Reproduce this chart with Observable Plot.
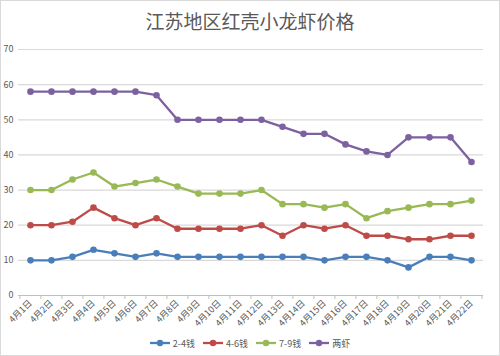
<!DOCTYPE html>
<html><head><meta charset="utf-8">
<script src="https://cdn.jsdelivr.net/npm/d3@7"></script>
<script src="https://cdn.jsdelivr.net/npm/@observablehq/plot@0.6"></script>
<style>
body{margin:0;background:#fff;}
#wrap{width:498px;height:354px;border:1px solid #d9d9d9;position:relative;overflow:hidden;font-family:"Noto Sans CJK SC","Noto Sans",sans-serif;}
#title{height:37px;line-height:40px;text-align:center;font-size:19px;color:#595959;font-family:"Noto Sans CJK SC",serif;}
#legend{display:flex;justify-content:center;align-items:center;height:26px;font-size:9px;color:#595959;gap:8px;}
.li{display:flex;align-items:center;gap:3px;}
</style></head>
<body><div id="wrap"><div id="title">江苏地区红壳小龙虾价格</div><div id="chart"></div><div id="legend"></div></div>
<script>
const dates = ["4月1日","4月2日","4月3日","4月4日","4月5日","4月6日","4月7日","4月8日","4月9日","4月10日","4月11日","4月12日","4月13日","4月14日","4月15日","4月16日","4月17日","4月18日","4月19日","4月20日","4月21日","4月22日"];
const s24 = [10,10,11,13,12,11,12,11,11,11,11,11,11,11,10,11,11,10,8,11,11,10];
const s46 = [20,20,21,25,22,20,22,19,19,19,19,20,17,20,19,20,17,17,16,16,17,17];
const s79 = [30,30,33,35,31,32,33,31,29,29,29,30,26,26,25,26,22,24,25,26,26,27];
const sLx = [58,58,58,58,58,58,57,50,50,50,50,50,48,46,46,43,41,40,45,45,45,38];
const seriesNames = ["2-4钱","4-6钱","7-9钱","两虾"];
const colors = ["#4a7ebb","#be4b48","#98b954","#7d60a0"];
const yTicks = [0,10,20,30,40,50,60,70];

const allSeries = [s24,s46,s79,sLx];
const data = [];
allSeries.forEach((arr,si)=>arr.forEach((v,i)=>data.push({date:dates[i],value:v,series:seriesNames[si]})));

const W=498, mL=17, mR=16;
const step=(W-mL-mR)/dates.length;

const chart = Plot.plot({
  width: W, height: 292,
  marginTop: 11, marginBottom: 35, marginLeft: mL, marginRight: mR,
  style:{fontFamily:'"Noto Sans CJK SC","Noto Sans",sans-serif', fontSize:"9px", color:"#595959"},
  x:{type:"point", domain:dates, padding:0.5},
  y:{domain:[0,70]},
  color:{domain:seriesNames, range:colors},
  marks:[
    Plot.ruleY(yTicks.filter(d=>d>0), {stroke:"#d9d9d9", strokeWidth:1.2}),
    Plot.ruleY([0], {stroke:"#bfbfbf", strokeWidth:1.2}),
    Plot.axisY({ticks:yTicks, tickSize:0, tickPadding:5, fill:"#595959", label:null}),
    Plot.axisX({tickSize:0, tickRotate:-45, tickPadding:6, fill:"#595959", label:null}),
    Plot.axisX({tickSize:4, tickFormat:()=>"", dx:-step/2, stroke:"#bfbfbf", label:null}),
    Plot.axisX({ticks:[dates[dates.length-1]], tickSize:4, tickFormat:()=>"", dx:step/2, stroke:"#bfbfbf", label:null}),
    Plot.line(data, {x:"date", y:"value", z:"series", stroke:"series", strokeWidth:2.3}),
    Plot.dot(data, {x:"date", y:"value", fill:"series", r:3.3, stroke:"none"})
  ]
});
document.getElementById("chart").appendChild(chart);

const leg=document.getElementById("legend");
seriesNames.forEach((n,i)=>{
  const d=document.createElement("div");d.className="li";
  d.innerHTML=`<svg width="20" height="8"><line x1="0" y1="4" x2="20" y2="4" stroke="${colors[i]}" stroke-width="2.3"/><circle cx="10" cy="4" r="3.2" fill="${colors[i]}"/></svg><span>${n}</span>`;
  leg.appendChild(d);
});
</script></body></html>
